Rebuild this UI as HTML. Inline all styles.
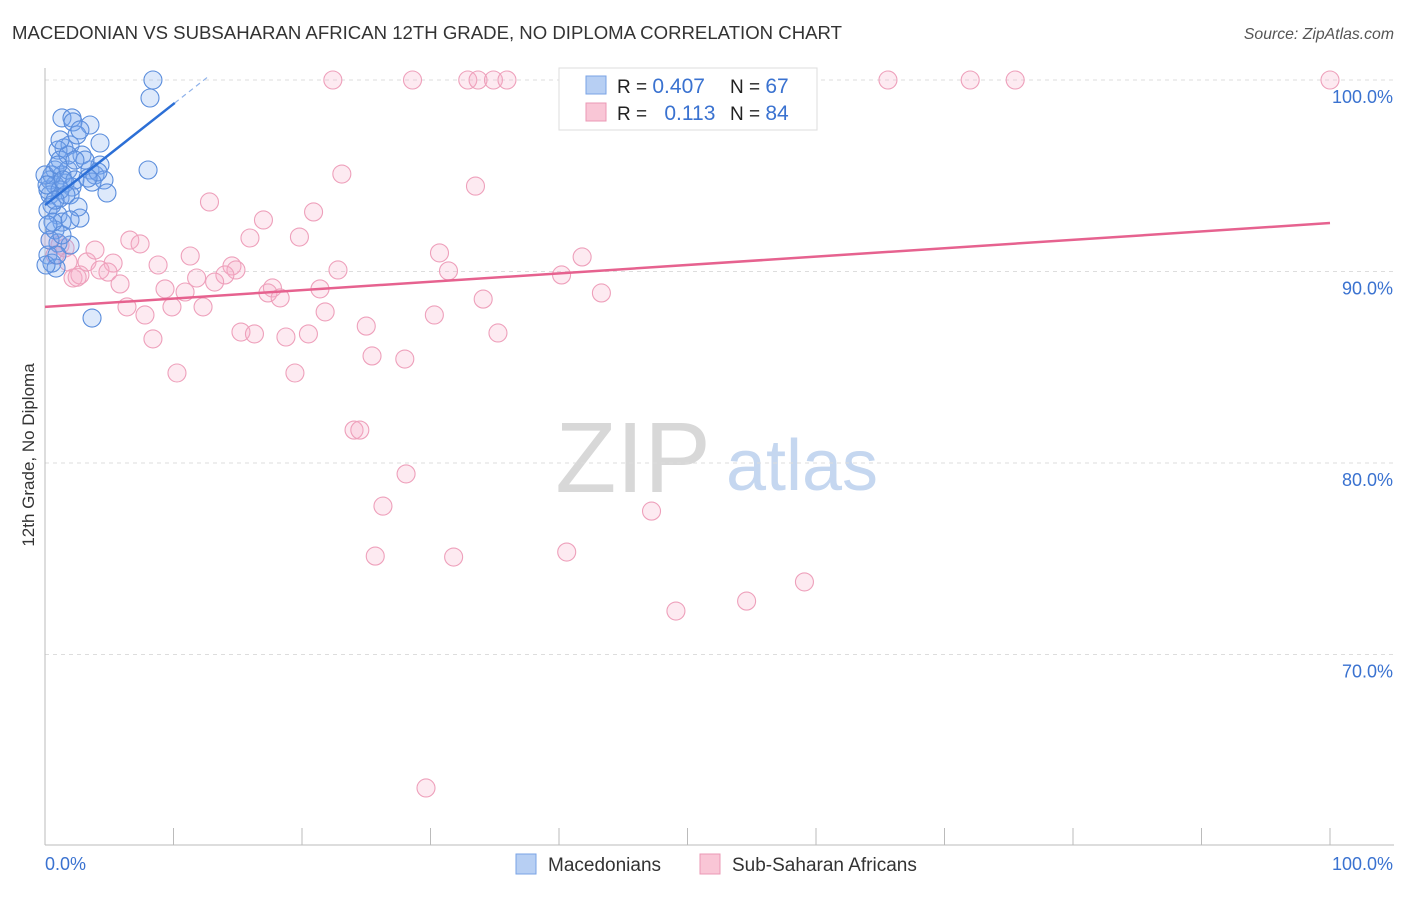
<!DOCTYPE html>
<html><head><meta charset="utf-8"><style>
body{margin:0;background:#fff;font-family:"Liberation Sans",sans-serif}
svg text{font-family:"Liberation Sans",sans-serif}
</style></head><body>
<svg id="chart" width="1406" height="892" xmlns="http://www.w3.org/2000/svg">
<text x="12" y="39" font-size="18.6" fill="#333">MACEDONIAN VS SUBSAHARAN AFRICAN 12TH GRADE, NO DIPLOMA CORRELATION CHART</text>
<text x="1394" y="39" font-size="15.8" fill="#555" text-anchor="end" font-style="italic">Source: ZipAtlas.com</text>
<g>
<text x="633" y="492" font-size="100" fill="#d8d8d8" font-family="Liberation Serif" text-anchor="middle">ZIP</text>
<text x="802" y="490" font-size="72" fill="#c5d7f0" text-anchor="middle">atlas</text>
</g>
<g id="grid"></g><g id="axes"></g><g id="pts"></g><g id="lines"></g>
<text transform="translate(34,455) rotate(-90)" font-size="17" fill="#333" text-anchor="middle">12th Grade, No Diploma</text>
<g>
<rect x="559" y="68" width="258" height="62" fill="#fff" stroke="#ddd"/>
<rect x="586" y="76" width="20" height="18" fill="#b7cff3" stroke="#7aa3e6"/>
<rect x="586" y="103" width="20" height="18" fill="#f9c6d6" stroke="#eb98b5"/>
<text x="617" y="93" font-size="19" fill="#222">R = <tspan fill="#3a72d0" font-size="21">0.407</tspan></text>
<text x="730" y="93" font-size="19" fill="#222">N = <tspan fill="#3a72d0" font-size="21">67</tspan></text>
<text x="617" y="120" font-size="19" fill="#222">R = <tspan fill="#3a72d0" font-size="21" dx="12">0.113</tspan></text>
<text x="730" y="120" font-size="19" fill="#222">N = <tspan fill="#3a72d0" font-size="21">84</tspan></text>
</g>
<g>
<rect x="516" y="854" width="20" height="20" fill="#b7cff3" stroke="#7aa3e6"/>
<text x="548" y="871" font-size="19" fill="#333">Macedonians</text>
<rect x="700" y="854" width="20" height="20" fill="#f9c6d6" stroke="#eb98b5"/>
<text x="732" y="871" font-size="19" fill="#333">Sub-Saharan Africans</text>
</g>
</svg>
<script>
const yTicks=[100,90,80,70];
const xTickLabels=["0.0%","100.0%"];
const blueX=[8.4,8.17,8.02,3.66,1.32,2.1,2.18,3.5,4.28,1.48,1.95,1.01,2.49,2.88,1.17,1.79,0.78,1.32,0.39,0.78,1.56,2.1,0.39,1.17,1.95,0.54,0.23,1.01,1.32,2.72,2.57,3.5,3.89,4.28,4.59,4.82,3.66,3.11,0.23,0.54,1.17,0.78,1.01,1.95,0.23,0.54,0.86,0.39,1.79,2.33,0,0.16,1.32,1.63,1.01,0.78,1.17,4.12,3.35,0.62,1.95,0.23,0.08,0.93,1.4,2.33,2.72];
const blueY=[100,99.06,95.3,87.57,98.02,98.02,97.81,97.65,96.71,96.45,96.61,96.34,97.13,96.08,95.82,96.08,95.3,95.04,94.78,94.52,94.62,94.41,94.0,93.84,94.0,93.47,93.21,92.95,92.58,92.79,93.37,95.3,95.04,95.56,94.78,94.1,94.67,95.82,94.26,95.04,94.26,92.17,91.49,91.38,90.86,90.44,90.18,91.64,95.3,94.78,95.04,94.52,91.91,94.0,95.56,93.73,96.87,95.2,94.88,92.58,92.69,92.43,90.34,90.86,94.78,95.82,97.39];
const pinkX=[22.4,28.6,32.9,33.7,34.9,35.95,46.1,52.4,65.6,72.0,75.5,100,23.1,33.5,12.8,20.9,17.0,15.95,19.8,6.6,7.4,30.7,41.8,11.3,8.8,3.27,5.3,4.28,4.9,14.55,14.86,22.8,31.4,40.2,14.0,11.8,13.2,5.84,2.18,2.72,9.34,10.9,17.7,17.35,18.3,21.4,34.1,43.3,6.38,7.78,9.88,12.3,21.8,30.3,15.25,16.3,18.75,20.5,25.0,35.25,8.4,25.45,28.0,10.27,19.45,24.05,24.5,28.1,26.3,47.2,25.7,31.8,40.6,49.1,54.6,59.1,29.65,1.17,1.56,0.78,1.79,3.89,0.39,2.5];
const pinkY=[100,100,100,100,100,100,100,100,100,100,100,100,95.09,94.46,93.63,93.11,92.69,91.75,91.8,91.64,91.44,90.97,90.76,90.81,90.34,90.5,90.44,90.08,89.97,90.29,90.08,90.08,90.03,89.82,89.82,89.66,89.45,89.35,89.66,89.82,89.09,88.93,89.14,88.88,88.62,89.09,88.56,88.88,88.15,87.73,88.15,88.15,87.89,87.73,86.84,86.74,86.58,86.74,87.15,86.79,86.48,85.59,85.43,84.7,84.7,81.72,81.72,79.43,77.75,77.49,75.14,75.09,75.35,72.27,72.79,73.79,63.03,91.38,91.23,90.86,90.5,91.12,91.64,89.7];
const blueTrend=[93.47,0.528];
const pinkTrend=[88.15,0.0438];
const X0=45,X1=1330,Y100=80,PX10=191.5;
const sx=v=>X0+(X1-X0)*v/100;
const sy=v=>Y100+(100-v)*PX10/10;
const NS="http://www.w3.org/2000/svg";
function mk(t,a,p){const e=document.createElementNS(NS,t);for(const k in a)e.setAttribute(k,a[k]);p.appendChild(e);return e;}
const grid=document.getElementById('grid'),axes=document.getElementById('axes'),pts=document.getElementById('pts'),lines=document.getElementById('lines');
yTicks.forEach(v=>{
 const l=mk('line',{x1:X0,x2:1394,y1:sy(v),y2:sy(v),stroke:'#ddd','stroke-dasharray':'4,4'},grid);
 
 
 const t=mk('text',{x:1393,y:sy(v)+23,'font-size':18,fill:'#3a72d0','text-anchor':'end'},axes);
 t.textContent=v.toFixed(1)+'%';
 
 
});
const ax=mk('line',{x1:X0,x2:X0,y1:68,y2:845,stroke:'#bbb'},axes);


const bx=mk('line',{x1:X0,x2:1394,y1:845,y2:845,stroke:'#bbb'},axes);


for(let i=0;i<=10;i++){const tk=mk('line',{x1:sx(i*10),x2:sx(i*10),y1:828,y2:845,stroke:'#bbb'},axes);
 
 }
const xl=mk('text',{x:45,y:870,'font-size':18,fill:'#3a72d0'},axes);xl.textContent=xTickLabels[0];


const xr=mk('text',{x:1393,y:870,'font-size':18,fill:'#3a72d0','text-anchor':'end'},axes);xr.textContent=xTickLabels[1];


pinkX.forEach((v,i)=>{const c=mk('circle',{cx:sx(v),cy:sy(pinkY[i]),r:9,fill:'rgba(246,170,198,0.25)',stroke:'#eea0bb','stroke-width':1.1},pts);
 
 });
blueX.forEach((v,i)=>{const c=mk('circle',{cx:sx(v),cy:sy(blueY[i]),r:9,fill:'rgba(120,168,238,0.25)',stroke:'#5a8ddc','stroke-width':1.1},pts);
 
 });
const pl=mk('line',{x1:sx(0),y1:sy(pinkTrend[0]),x2:sx(100),y2:sy(pinkTrend[0]+100*pinkTrend[1]),stroke:'#e6628f','stroke-width':2.5},lines);


const bl=mk('line',{x1:sx(0),y1:sy(blueTrend[0]),x2:sx(10.1),y2:sy(blueTrend[0]+10.1*blueTrend[1]),stroke:'#2c6fd6','stroke-width':2.5},lines);


const bd=mk('line',{x1:sx(10.1),y1:sy(blueTrend[0]+10.1*blueTrend[1]),x2:sx(12.8),y2:sy(blueTrend[0]+12.8*blueTrend[1]),stroke:'#8fb2ea','stroke-width':1.2,'stroke-dasharray':'5,4'},lines);


</script>
</body></html>
